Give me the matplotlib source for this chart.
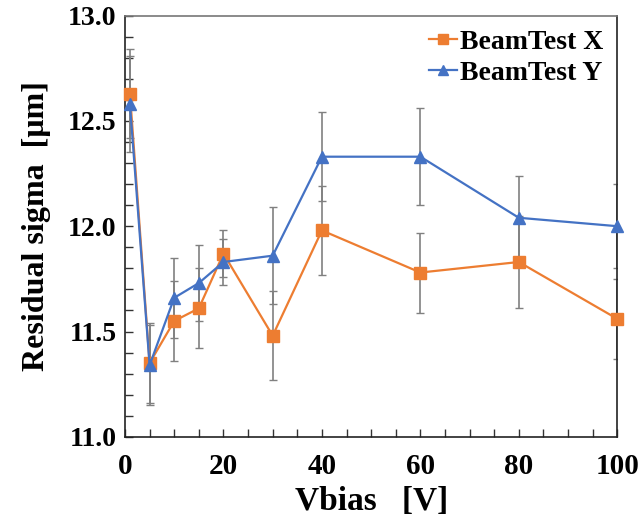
import matplotlib
matplotlib.use("Agg")
import matplotlib.pyplot as plt
from matplotlib.ticker import MultipleLocator

# bias voltage [V]
vbias = [1, 5, 10, 15, 20, 30, 40, 60, 80, 100]

# residual sigma [um] and errors
sigma_x = [12.63, 11.35, 11.55, 11.61, 11.87, 11.48, 11.98, 11.78, 11.83, 11.56]
err_x = [0.21, 0.19, 0.19, 0.19, 0.11, 0.21, 0.21, 0.19, 0.22, 0.19]
sigma_y = [12.58, 11.34, 11.66, 11.73, 11.83, 11.86, 12.33, 12.33, 12.04, 12.00]
err_y = [0.23, 0.19, 0.19, 0.18, 0.11, 0.23, 0.21, 0.23, 0.20, 0.20]

plt.rcParams['font.family'] = ['Liberation Serif', 'DejaVu Serif']
plt.rcParams['font.weight'] = 'bold'

fig = plt.figure(figsize=(6.41, 5.20), dpi=100)
ax = fig.add_axes([0.195, 0.160, 0.768, 0.810])

orange = '#ED7D31'
blue = '#4472C4'

# error bars first, grey
ax.errorbar(vbias, sigma_x, yerr=err_x, fmt='none', ecolor='#808080',
            elinewidth=1.2, capsize=3, capthick=1, zorder=2)
ax.errorbar(vbias, sigma_y, yerr=err_y, fmt='none', ecolor='#808080',
            elinewidth=1.2, capsize=3, capthick=1, zorder=2)

ax.plot(vbias, sigma_x, color=orange, marker='s', markersize=9, lw=1.6,
        label='BeamTest X', zorder=4, clip_on=False)
ax.plot(vbias, sigma_y, color=blue, marker='^', markersize=9, lw=1.6,
        label='BeamTest Y', zorder=5, clip_on=False)

ax.set_xlim(0, 100)
ax.set_ylim(11.0, 13.0)
ax.xaxis.set_major_locator(MultipleLocator(20))
ax.xaxis.set_minor_locator(MultipleLocator(5))
ax.yaxis.set_major_locator(MultipleLocator(0.5))
ax.yaxis.set_minor_locator(MultipleLocator(0.1))
ax.yaxis.set_major_formatter(matplotlib.ticker.FormatStrFormatter('%.1f'))

ax.tick_params(which='both', direction='in', top=False, right=False,
               width=1, color='#333333', length=6)
ax.tick_params(axis='y', which='major', labelsize=20, pad=6)
ax.tick_params(axis='x', which='major', labelsize=21, pad=12)
for lab in ax.get_xticklabels() + ax.get_yticklabels():
    lab.set_fontweight('bold')

for side in ['left', 'bottom', 'right']:
    ax.spines[side].set_color('#222222')
    ax.spines[side].set_linewidth(1.2)
ax.spines['top'].set_color('#777777')
ax.spines['top'].set_linewidth(1.2)

ax.set_xlabel('Vbias   [V]', fontsize=24, fontweight='bold', labelpad=4)
ax.set_ylabel('Residual sigma  [μm]', fontsize=23, fontweight='bold', labelpad=12)

leg = ax.legend(loc='upper right', frameon=False, fontsize=20,
                handlelength=1.0, handletextpad=0.1, borderaxespad=0.1,
                labelspacing=0.2, markerscale=0.8)
for t in leg.get_texts():
    t.set_fontweight('bold')

fig.savefig('out.png', dpi=100)
